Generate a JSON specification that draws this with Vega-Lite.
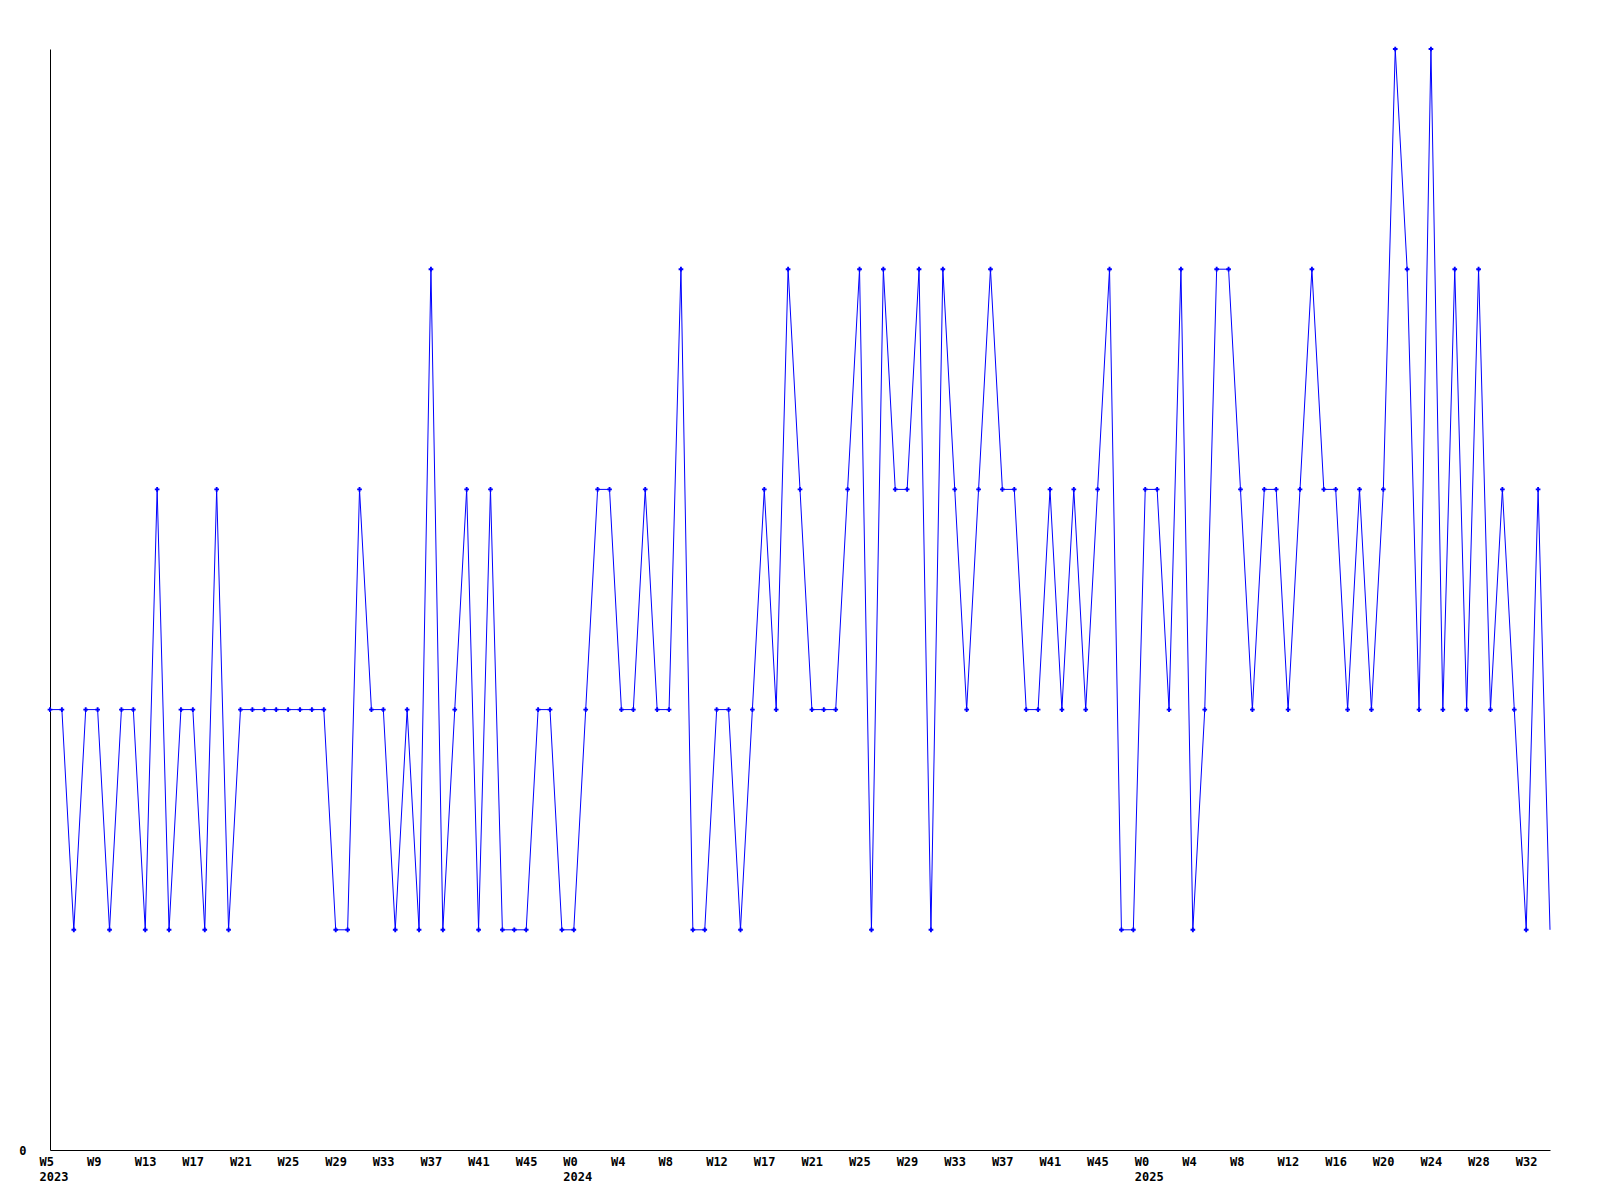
{
  "$schema": "https://vega.github.io/schema/vega-lite/v6.json",
  "width": 1500,
  "height": 1101,
  "autosize": {"type": "none"},
  "padding": {"left": 50, "top": 49, "right": 50, "bottom": 50},
  "background": "white",
  "config": {"view": {"stroke": null}},
  "data": {"values": [
    {"i":0,"v":2},{"i":1,"v":2},{"i":2,"v":1},{"i":3,"v":2},{"i":4,"v":2},{"i":5,"v":1},{"i":6,"v":2},{"i":7,"v":2},{"i":8,"v":1},{"i":9,"v":3},
    {"i":10,"v":1},{"i":11,"v":2},{"i":12,"v":2},{"i":13,"v":1},{"i":14,"v":3},{"i":15,"v":1},{"i":16,"v":2},{"i":17,"v":2},{"i":18,"v":2},{"i":19,"v":2},
    {"i":20,"v":2},{"i":21,"v":2},{"i":22,"v":2},{"i":23,"v":2},{"i":24,"v":1},{"i":25,"v":1},{"i":26,"v":3},{"i":27,"v":2},{"i":28,"v":2},{"i":29,"v":1},
    {"i":30,"v":2},{"i":31,"v":1},{"i":32,"v":4},{"i":33,"v":1},{"i":34,"v":2},{"i":35,"v":3},{"i":36,"v":1},{"i":37,"v":3},{"i":38,"v":1},{"i":39,"v":1},
    {"i":40,"v":1},{"i":41,"v":2},{"i":42,"v":2},{"i":43,"v":1},{"i":44,"v":1},{"i":45,"v":2},{"i":46,"v":3},{"i":47,"v":3},{"i":48,"v":2},{"i":49,"v":2},
    {"i":50,"v":3},{"i":51,"v":2},{"i":52,"v":2},{"i":53,"v":4},{"i":54,"v":1},{"i":55,"v":1},{"i":56,"v":2},{"i":57,"v":2},{"i":58,"v":1},{"i":59,"v":2},
    {"i":60,"v":3},{"i":61,"v":2},{"i":62,"v":4},{"i":63,"v":3},{"i":64,"v":2},{"i":65,"v":2},{"i":66,"v":2},{"i":67,"v":3},{"i":68,"v":4},{"i":69,"v":1},
    {"i":70,"v":4},{"i":71,"v":3},{"i":72,"v":3},{"i":73,"v":4},{"i":74,"v":1},{"i":75,"v":4},{"i":76,"v":3},{"i":77,"v":2},{"i":78,"v":3},{"i":79,"v":4},
    {"i":80,"v":3},{"i":81,"v":3},{"i":82,"v":2},{"i":83,"v":2},{"i":84,"v":3},{"i":85,"v":2},{"i":86,"v":3},{"i":87,"v":2},{"i":88,"v":3},{"i":89,"v":4},
    {"i":90,"v":1},{"i":91,"v":1},{"i":92,"v":3},{"i":93,"v":3},{"i":94,"v":2},{"i":95,"v":4},{"i":96,"v":1},{"i":97,"v":2},{"i":98,"v":4},{"i":99,"v":4},
    {"i":100,"v":3},{"i":101,"v":2},{"i":102,"v":3},{"i":103,"v":3},{"i":104,"v":2},{"i":105,"v":3},{"i":106,"v":4},{"i":107,"v":3},{"i":108,"v":3},{"i":109,"v":2},
    {"i":110,"v":3},{"i":111,"v":2},{"i":112,"v":3},{"i":113,"v":5},{"i":114,"v":4},{"i":115,"v":2},{"i":116,"v":5},{"i":117,"v":2},{"i":118,"v":4},{"i":119,"v":2},
    {"i":120,"v":4},{"i":121,"v":2},{"i":122,"v":3},{"i":123,"v":2},{"i":124,"v":1},{"i":125,"v":3},{"i":126,"v":1}
  ]},
  "encoding": {
    "x": {
      "field": "i", "type": "quantitative",
      "scale": {"domain": [0, 126], "nice": false, "zero": false},
      "axis": {
        "title": null, "grid": false, "ticks": false,
        "values": [0,4,8,12,16,20,24,28,32,36,40,44,48,52,56,60,64,68,72,76,80,84,88,92,96,100,104,108,112,116,120,124],
        "labelExpr": "split(['W5|2023','W9','W13','W17','W21','W25','W29','W33','W37','W41','W45','W0|2024','W4','W8','W12','W17','W21','W25','W29','W33','W37','W41','W45','W0|2025','W4','W8','W12','W16','W20','W24','W28','W32'][round(datum.value/4)], '|')",
        "labelAlign": "left", "labelBaseline": "top", "labelOffset": -11, "labelPadding": 6,
        "labelLineHeight": 15, "labelFlush": false, "labelOverlap": false,
        "labelFont": "DejaVu Sans Mono", "labelFontSize": 12, "labelFontWeight": "bold", "labelColor": "black",
        "domainColor": "black", "domainWidth": 1
      }
    },
    "y": {
      "field": "v", "type": "quantitative",
      "scale": {"domain": [0, 5], "nice": false},
      "axis": {
        "title": null, "grid": false, "ticks": false, "values": [0],
        "labelPadding": 24, "labelFont": "DejaVu Sans Mono", "labelFontSize": 12, "labelFontWeight": "bold", "labelColor": "black",
        "domainColor": "black", "domainWidth": 1
      }
    }
  },
  "layer": [
    {"mark": {"type": "line", "color": "#0000ff", "strokeWidth": 1}},
    {"transform": [{"filter": "datum.i < 126"}],
     "mark": {"type": "point", "shape": "cross", "filled": true, "color": "#0000ff", "size": 22, "opacity": 1}}
  ]
}
